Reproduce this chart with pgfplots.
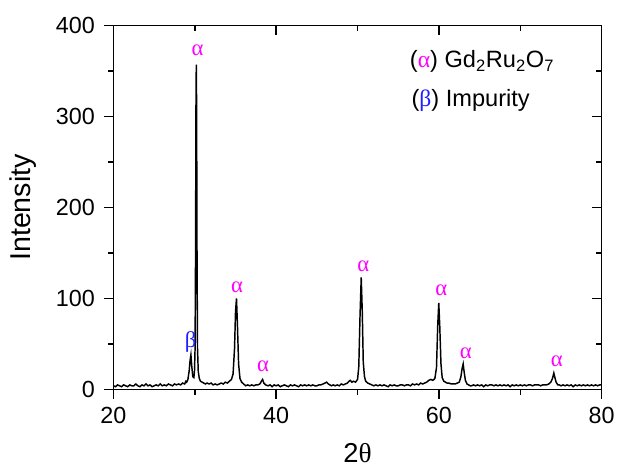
\documentclass[border=0pt]{standalone}
\usepackage{fontspec}
\setmainfont{Liberation Sans}
\newfontfamily\greek{Liberation Serif}
\usepackage{pgfplots}
\pgfplotsset{compat=1.18}
\definecolor{alph}{RGB}{255,0,255}
\definecolor{bet}{RGB}{30,30,255}

\pgfplotstableread{
x y
20.0 4
20.25 3
20.5 5
20.75 4
21.0 3
21.25 5
21.5 4
21.75 3
22.0 5
22.25 4
22.5 4
22.75 6
23.0 4
23.25 3
23.5 5
23.75 4
24.0 6
24.25 4
24.5 5
24.75 3
25.0 4
25.25 5
25.5 4
25.75 6
26.0 4
26.25 5
26.5 4
26.75 6
27.0 5
27.25 4
27.5 6
27.75 5
28.0 6
28.25 5
28.5 7
28.75 6
28.9 9
29.0 8
29.15 11
29.3 20
29.42 32
29.52 38
29.62 26
29.75 14
29.88 13
29.96 20
30.03 45
30.09 150
30.14 310
30.18 357
30.22 310
30.27 150
30.33 45
30.42 20
30.55 12
30.7 9
30.9 8
31.1 7
31.3 6
31.5 7
31.75 6
32.0 7
32.25 5
32.5 6
32.75 5
33.0 6
33.25 7
33.5 6
33.75 8
34.0 7
34.25 9
34.5 11
34.7 17
34.88 45
35.0 85
35.12 100
35.24 70
35.38 28
35.55 12
35.75 8
36.0 6
36.25 4
36.5 5
36.75 4
37.0 5
37.25 4
37.5 5
37.75 5
38.0 6
38.18 9
38.33 11
38.48 7
38.7 5
39.0 4
39.25 5
39.5 3
39.75 5
40.0 4
40.25 5
40.5 3
40.75 4
41.0 5
41.25 4
41.5 3
41.75 5
42.0 4
42.25 5
42.5 4
42.75 3
43.0 5
43.25 4
43.5 5
43.75 4
44.0 5
44.25 4
44.5 5
44.75 4
45.0 4
45.25 5
45.5 5
45.75 6
46.0 7
46.2 8
46.4 6
46.6 5
46.8 4
47.0 5
47.25 4
47.5 5
47.75 4
48.0 6
48.25 5
48.5 6
48.75 7
48.95 9
49.1 10
49.3 8
49.5 9
49.75 8
50.0 11
50.15 25
50.3 80
50.45 123
50.58 85
50.7 30
50.85 14
51.0 9
51.25 7
51.5 6
51.75 5
52.0 4
52.25 5
52.5 4
52.75 5
53.0 4
53.25 5
53.5 4
53.75 3
54.0 5
54.25 4
54.5 5
54.75 4
55.0 4
55.25 5
55.5 5
55.75 4
56.0 5
56.25 5
56.5 4
56.75 6
57.0 5
57.25 6
57.5 5
57.75 7
58.0 6
58.25 7
58.5 8
58.75 10
59.0 11
59.25 10
59.5 12
59.7 24
59.85 70
59.98 95
60.1 70
60.25 28
60.4 13
60.6 9
60.8 8
61.0 7
61.25 7
61.5 6
61.75 6
62.0 6
62.25 7
62.5 8
62.7 14
62.85 23
62.98 28
63.1 19
63.25 10
63.45 6
63.65 5
63.85 4
64.0 4
64.25 5
64.5 4
64.75 5
65.0 4
65.25 5
65.5 3
65.75 5
66.0 4
66.25 5
66.5 5
66.75 4
67.0 5
67.25 4
67.5 5
67.75 4
68.0 5
68.25 4
68.5 5
68.75 3
69.0 5
69.25 4
69.5 5
69.75 4
70.0 5
70.25 4
70.5 5
70.75 4
71.0 5
71.25 5
71.5 4
71.75 5
72.0 5
72.25 5
72.5 4
72.75 5
73.0 5
73.25 5
73.5 6
73.75 8
73.95 12
74.12 18
74.25 13
74.4 8
74.6 5
74.8 5
75.0 4
75.25 5
75.5 4
75.75 5
76.0 4
76.25 5
76.5 3
76.75 5
77.0 4
77.25 5
77.5 4
77.75 5
78.0 4
78.25 5
78.5 4
78.75 5
79.0 4
79.25 5
79.5 4
79.75 5
80.0 5
}\xrd

\begin{document}
\begin{tikzpicture}
\begin{axis}[
  scale only axis,
  width=366.2pt, height=273pt,
  xmin=20, xmax=80, ymin=0, ymax=400,
  xtick={20,40,60,80}, ytick={0,100,200,300,400},
  minor xtick={30,50,70}, minor ytick={50,150,250,350},
  xtick pos=bottom, ytick pos=left,
  tick align=outside,
  major tick length=7pt, minor tick length=4pt,
  tick style={line width=1.1pt, black},
  axis line style={line width=1.1pt},
  ticklabel style={font=\fontsize{17.5}{20}\selectfont},
  yticklabel style={xshift=-3.5pt},
  xticklabel style={yshift=-2.5pt},
  /pgf/number format/assume math mode=true,
  clip=false,
]
\addplot[black, line width=1.1pt, no markers] table[x=x,y=y] {\xrd};
\begin{scope}[every node/.style={font=\fontsize{17}{20}\selectfont\greek, text=alph}]
\node at (axis cs:30.35,373) {α};
\node at (axis cs:35.2,112) {α};
\node at (axis cs:38.4,25) {α};
\node at (axis cs:50.7,135.5) {α};
\node at (axis cs:60.3,108.5) {α};
\node at (axis cs:63.3,40) {α};
\node at (axis cs:74.5,30.5) {α};
\node[text=bet] at (axis cs:29.5,52.5) {β};
\end{scope}
\node[anchor=west, font=\fontsize{17.7}{21}\selectfont, inner sep=0pt] at (axis cs:56.4,360) {({\greek\color{alph}α}) Gd\textsubscript{2}Ru\textsubscript{2}O\textsubscript{7}};
\node[anchor=west, font=\fontsize{17.7}{21}\selectfont, inner sep=0pt] at (axis cs:56.6,318) {({\greek\color{bet}β}) Impurity};
\coordinate (bl) at (rel axis cs:0,0);
\coordinate (tr) at (rel axis cs:1,1);
\coordinate (ml) at (rel axis cs:0,0.5);
\coordinate (mb) at (rel axis cs:0.5,0);
\end{axis}
\begin{axis}[
  scale only axis,
  width=366.2pt, height=273pt,
  xmin=20, xmax=80, ymin=0, ymax=400,
  xtick={20,40,60,80}, ytick={0,100,200,300,400},
  minor xtick={30,50,70}, minor ytick={50,150,250,350},
  xtick pos=top, ytick pos=right,
  tick align=inside,
  major tick length=7pt, minor tick length=4pt,
  tick style={line width=1.1pt, black},
  axis line style={line width=1.1pt},
  xticklabels={}, yticklabels={},
]
\end{axis}
\node[rotate=90, font=\fontsize{21.5}{24}\selectfont] at ([xshift=-67.9pt]ml) {Intensity};
\node[font=\fontsize{20.5}{24}\selectfont] at ([yshift=-48pt]mb) {2{\greek θ}};
\pgfresetboundingbox
\path[use as bounding box] ([shift={(-85.1pt,-58.9pt)}]bl) rectangle ([shift={(11.5pt,19.1pt)}]tr);
\end{tikzpicture}
\end{document}
